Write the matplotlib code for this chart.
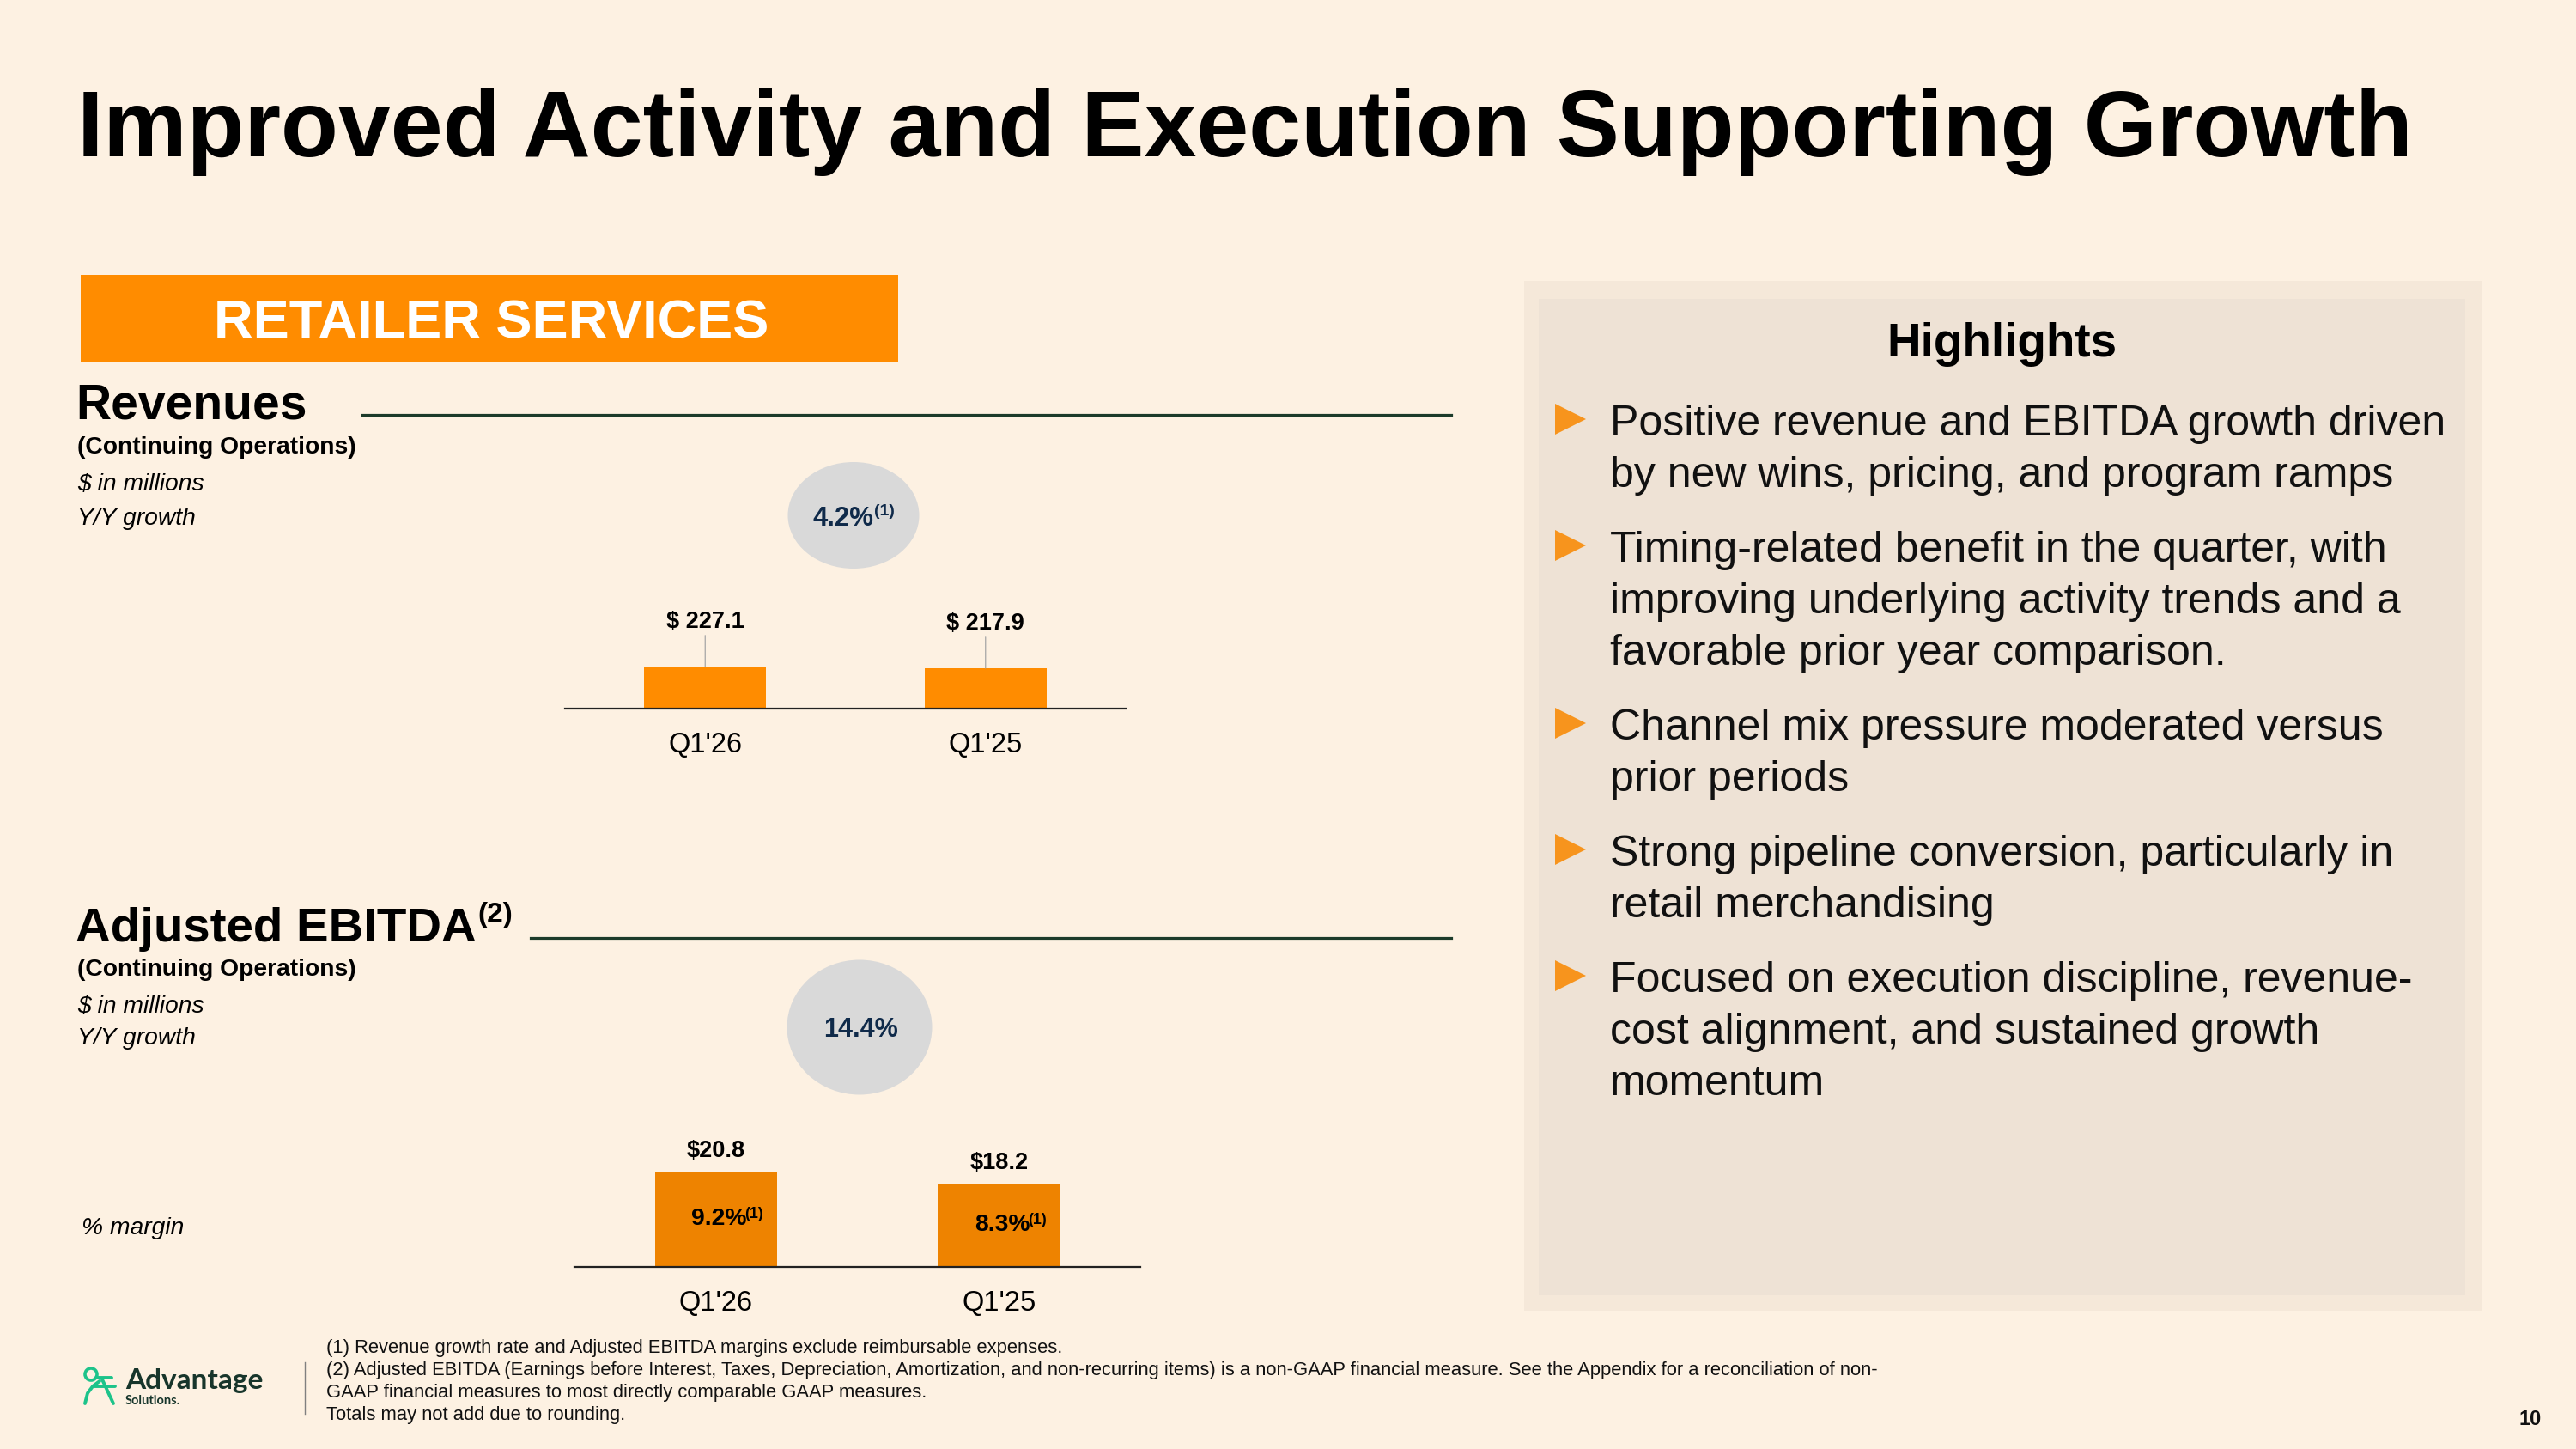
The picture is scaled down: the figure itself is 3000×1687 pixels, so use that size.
import matplotlib
matplotlib.use('Agg')
import matplotlib.pyplot as plt
from matplotlib.patches import Rectangle, Ellipse, Polygon
from matplotlib.lines import Line2D
from matplotlib.text import Annotation

plt.rcParams['font.family'] = ['Liberation Sans', 'DejaVu Sans']

# ---------------- data ----------------
title = "Improved Activity and Execution Supporting Growth"
segment = "RETAILER SERVICES"
periods = ["Q1'26", "Q1'25"]
revenue = [227.1, 217.9]
revenue_labels = ["$ 227.1", "$ 217.9"]
revenue_growth = "4.2%"
ebitda = [20.8, 18.2]
ebitda_labels = ["$20.8", "$18.2"]
ebitda_margin = ["9.2%", "8.3%"]
ebitda_growth = "14.4%"
highlights = [
    ["Positive revenue and EBITDA growth driven", "by new wins, pricing, and program ramps"],
    ["Timing-related benefit in the quarter, with", "improving underlying activity trends and a",
     "favorable prior year comparison."],
    ["Channel mix pressure moderated versus", "prior periods"],
    ["Strong pipeline conversion, particularly in", "retail merchandising"],
    ["Focused on execution discipline, revenue-", "cost alignment, and sustained growth", "momentum"],
]
footnotes = [
    "(1) Revenue growth rate and Adjusted EBITDA margins exclude reimbursable expenses.",
    "(2) Adjusted EBITDA (Earnings before Interest, Taxes, Depreciation, Amortization, and non-recurring items) is a non-GAAP financial measure. See the Appendix for a reconciliation of non-",
    "GAAP financial measures to most directly comparable GAAP measures.",
    "Totals may not add due to rounding.",
]
page_number = "10"

# ---------------- styles ----------------
BG = '#FDF1E2'
ORANGE = '#FF8C00'
ORANGE2 = '#EE8300'
NAVY = '#0F2A4A'
GREEN_DARK = '#1C3B2A'
ELLIPSE = '#D9D9D9'

W, H = 3000, 1687
fig = plt.figure(figsize=(30, 16.87), dpi=100)
fig.patch.set_facecolor(BG)
PT = 72 / 100.0  # points per pixel


def fx(x):
    return x / W


def fy(y):
    return 1 - y / H


def ftext(x, y, s, **kw):
    kw.setdefault('va', 'baseline')
    kw.setdefault('ha', 'left')
    return fig.text(fx(x), fy(y), s, **kw)


def frect(x0, y0, x1, y1, color):
    r = Rectangle((fx(x0), fy(y1)), (x1 - x0) / W, (y1 - y0) / H,
                  transform=fig.transFigure, facecolor=color, edgecolor='none', zorder=0)
    fig.add_artist(r)


def fline(xs, ys, color, lw, **kw):
    ln = Line2D([fx(x) for x in xs], [fy(y) for y in ys], transform=fig.transFigure,
                color=color, linewidth=lw, **kw)
    fig.add_artist(ln)


def sup_after(main, s, size, dx=1.0, dy=0.0, **kw):
    a = Annotation(s, xy=(1, 1), xycoords=main, xytext=(dx, dy), textcoords='offset points',
                   ha='left', va='top', fontsize=size, annotation_clip=False, **kw)
    fig.add_artist(a)
    return a


# ---------------- title ----------------
ftext(90, 182, title, fontsize=78.8, fontweight='bold', color='black')

# ---------------- segment band ----------------
frect(94, 320, 1046, 421, ORANGE)
ftext(572, 394, segment, ha='center', fontsize=45.4, fontweight='bold', color='white')

# ---------------- revenue block ----------------
ftext(88, 487, "Revenues", fontsize=41, fontweight='bold', color='black')
fline([422, 1690], [483, 483], GREEN_DARK, 2.3)
ftext(90, 528, "(Continuing Operations)", fontsize=20.3, fontweight='bold', color='black')
ftext(90, 571, "$ in millions", fontsize=20.3, fontstyle='italic', color='black')
ftext(90, 611, "Y/Y growth", fontsize=20.3, fontstyle='italic', color='black')

fig.add_artist(Ellipse((fx(994), fy(600)), 153 / W, 124 / H, transform=fig.transFigure,
                       facecolor=ELLIPSE, edgecolor='none'))
g1 = ftext(982, 612, revenue_growth, ha='center', fontsize=22.4, fontweight='bold', color=NAVY)
sup_after(g1, "(1)", 14, dx=0.5, dy=1.5, fontweight='bold', color=NAVY)

rev_h = 49 * 1000 / 227.1
ax1 = fig.add_axes([fx(658), fy(825), (1311 - 658) / W, rev_h / H])
ax1.bar(range(len(revenue)), revenue, width=0.436, color=ORANGE, zorder=2)
ax1.set_xlim(-0.5, 1.5)
ax1.set_ylim(0, 1000)
for i, (v, lab) in enumerate(zip(revenue, revenue_labels)):
    ax1.annotate(lab, xy=(i, v), xytext=(0, 45 * PT), textcoords='offset points',
                 ha='center', va='baseline', fontsize=19.5, fontweight='bold', color='black',
                 arrowprops=dict(arrowstyle='-', color='#A6A6A6', lw=0.9, shrinkA=0, shrinkB=0))

# ---------------- EBITDA block ----------------
t2 = ftext(88, 1096, "Adjusted EBITDA", fontsize=40.6, fontweight='bold', color='black')
sup_after(t2, "(2)", 24, dx=1.0, dy=4.0, fontweight='bold', color='black')
fline([618, 1690], [1092, 1092], GREEN_DARK, 2.3)
ftext(90, 1136, "(Continuing Operations)", fontsize=20.3, fontweight='bold', color='black')
ftext(90, 1179, "$ in millions", fontsize=20.3, fontstyle='italic', color='black')
ftext(90, 1216, "Y/Y growth", fontsize=20.3, fontstyle='italic', color='black')
ftext(95, 1437, "% margin", fontsize=20.3, fontstyle='italic', color='black')

fig.add_artist(Ellipse((fx(1001), fy(1196)), 169 / W, 157 / H, transform=fig.transFigure,
                       facecolor=ELLIPSE, edgecolor='none'))
ftext(1002, 1207, ebitda_growth, ha='center', fontsize=22, fontweight='bold', color=NAVY)

eb_h = 111 * 40 / 20.8
ax2 = fig.add_axes([fx(669), fy(1475), (1328 - 669) / W, eb_h / H])
ax2.bar(range(len(ebitda)), ebitda, width=0.43, color=ORANGE2, zorder=2)
ax2.set_xlim(-0.5, 1.5)
ax2.set_ylim(0, 40)
for i, (v, lab, m) in enumerate(zip(ebitda, ebitda_labels, ebitda_margin)):
    ax2.annotate(lab, xy=(i, v), xytext=(0, 17 * PT), textcoords='offset points',
                 ha='center', va='baseline', fontsize=19.5, fontweight='bold', color='black')
    mt = ax2.annotate(m, xy=(i, v / 2), xytext=(4 * PT, -7 * PT), textcoords='offset points',
                      ha='center', va='baseline', fontsize=20.3, fontweight='bold', color='black')
    ax2.annotate("(1)", xy=(1, 1), xycoords=mt, xytext=(-2, 1), textcoords='offset points',
                 ha='left', va='top', fontsize=13, fontweight='bold', color='black',
                 annotation_clip=False)

for ax in (ax1, ax2):
    ax.patch.set_alpha(0)
    for s in ('top', 'right', 'left'):
        ax.spines[s].set_visible(False)
    ax.spines['bottom'].set_color('#222222')
    ax.spines['bottom'].set_linewidth(1.6)
    ax.set_yticks([])
    ax.set_xticks(range(len(periods)))
    ax.set_xticklabels(periods, fontsize=23.5, color='black')
    ax.tick_params(axis='x', length=0, pad=19.5)

# ---------------- highlights panel ----------------
frect(1775, 327, 2891, 1526, '#F5E8D9')
frect(1792, 348, 2871, 1508, '#EEE2D5')
ftext(2331, 415, "Highlights", ha='center', fontsize=39.5, fontweight='bold', color='black')

y = 507
LINE_GAP = 60
PARA_GAP = 87
for para in highlights:
    cy = y - 19
    fig.add_artist(Polygon([(fx(1811), fy(cy - 18)), (fx(1811), fy(cy + 18)), (fx(1847), fy(cy))],
                           closed=True, transform=fig.transFigure, facecolor='#F7941D',
                           edgecolor='none'))
    for k, line in enumerate(para):
        ftext(1875, y, line, fontsize=36, color='#111111')
        if k < len(para) - 1:
            y += LINE_GAP
    y += PARA_GAP

# ---------------- footer ----------------
fy0 = 1575
for k, fn in enumerate(footnotes):
    ftext(380, fy0 + k * 26, fn, fontsize=15.8, color='#111111')
fline([355, 355], [1586, 1646], '#808080', 1.0)
ftext(2947, 1659, page_number, ha='center', fontsize=17, fontweight='bold', color='#111111')

# logo
LG = '#1DC38A'
fig.add_artist(Ellipse((fx(106), fy(1600)), 14 / W, 14 / H, transform=fig.transFigure,
                       facecolor='none', edgecolor=LG, linewidth=2.6))
fline([112, 130], [1604, 1604], LG, 2.8, solid_capstyle='round')
fline([110, 134], [1614, 1614], LG, 2.8, solid_capstyle='round')
fline([99, 102, 108, 116], [1634, 1622, 1614, 1608], LG, 2.8, solid_capstyle='round')
fline([119, 132], [1606, 1634], LG, 2.8, solid_capstyle='round')
ftext(146, 1617, "Advantage", fontsize=24, fontweight='bold', color='#17352B',
      family=['Lato', 'DejaVu Sans'])
ftext(146, 1635, "Solutions.", fontsize=10.5, fontweight='bold', color='#17352B',
      family=['Lato', 'DejaVu Sans'])

fig.savefig('out.png', dpi=100, facecolor=BG)
